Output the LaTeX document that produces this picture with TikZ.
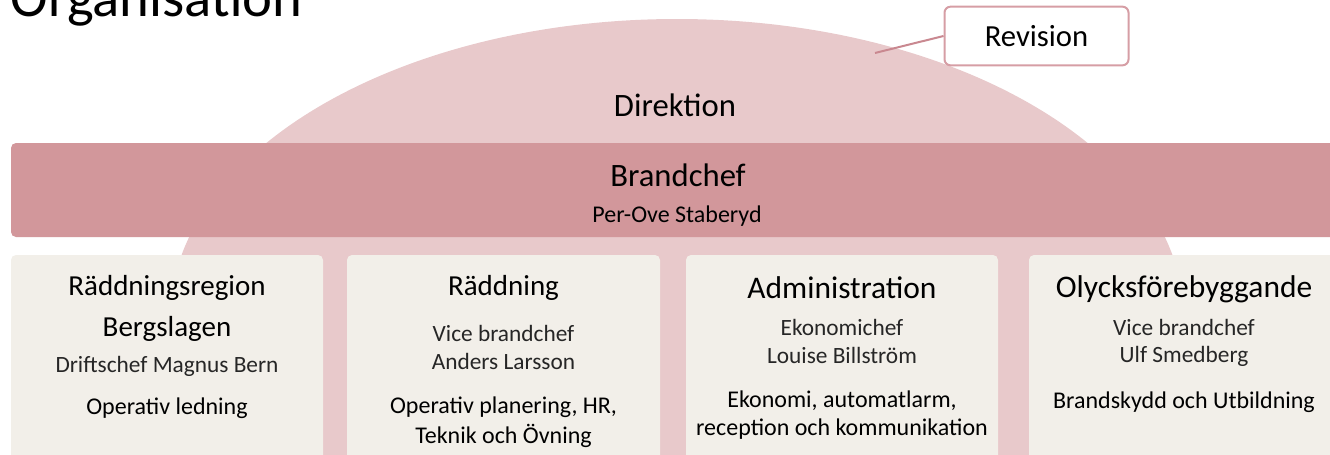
\documentclass[tikz,border=0pt]{standalone}
\usepackage{fontspec}
\setmainfont{Carlito}

\definecolor{domepink}{RGB}{232,201,203}
\definecolor{barpink}{RGB}{210,151,155}
\definecolor{panelgrey}{RGB}{242,239,233}
\definecolor{revpink}{RGB}{214,158,165}
\definecolor{revline}{RGB}{201,136,144}

\tikzset{every picture/.style={line width=0.75pt}}
\tikzset{
  txt/.style={anchor=base,inner sep=0pt,text=black},
  bigtxt/.style={txt,font=\fontsize{24.5}{29}\selectfont},
  headtxt/.style={txt,font=\fontsize{21.75}{26}\selectfont},
  headwide/.style={txt,font=\fontsize{23.6}{28}\selectfont},
  subtxt/.style={txt,text=black!85,font=\fontsize{17.5}{21}\selectfont},
  tasktxt/.style={txt,font=\fontsize{18}{22}\selectfont},
  panel/.style={fill=panelgrey,rounded corners=3.75pt},
  revbox/.style={draw=revpink,line width=1.5pt,fill=white,rounded corners=4.5pt,
    minimum width=138pt,minimum height=44pt,inner sep=0pt,font=\fontsize{23}{27}\selectfont}
}

\begin{document}
\begin{tikzpicture}[x=0.75pt,y=0.75pt,yscale=-1,xscale=1]
\useasboundingbox (0,0) rectangle (1330,454);
\begin{scope}
\clip (0,0) rectangle (1330,454);

%Shape: Dome
\fill[domepink] (677,319) ellipse [x radius=507, y radius=300];
%Shape: Brandchef bar
\fill[barpink,rounded corners=3.75pt] (11,143) rectangle (1345,237);
%Shape: Panels
\fill[panel] (11,255) rectangle (323,470);
\fill[panel] (347,255) rectangle (660,470);
\fill[panel] (686,255) rectangle (998,470);
\fill[panel] (1029,255) rectangle (1339,470);

% Revision box and line
\coordinate (revtip) at (875,53);
\node[revbox] (rev) at (1036.5,36) {Revision};
\draw[revline,line width=1.5pt] (revtip) -- (rev.west);

% Title
\node[anchor=base west,inner sep=0pt,font=\fontsize{42.5}{50}\selectfont] (orgtitle) at (10,16) {Organisation};

% Direktion and Brandchef
\node[bigtxt] (dir) at (675,116) {Direktion};
\node[bigtxt] (chef) at (678,186) {Brandchef};
\node[tasktxt] (chefname) at (677,222) {Per-Ove Staberyd};

% Räddningsregion
\node[headtxt] (rrA) at (167,295) {Räddningsregion};
\node[headtxt] (rrB) at (167,336) {Bergslagen};
\node[subtxt] (rrC) at (167,372) {Driftschef Magnus Bern};
\node[tasktxt] (rrD) at (167,414) {Operativ ledning};

% Räddning
\node[headtxt] (rdA) at (503.5,295) {Räddning};
\node[subtxt] (rdB) at (503.5,341) {Vice brandchef};
\node[subtxt] (rdC) at (503.5,369) {Anders Larsson};
\node[tasktxt] (rdD) at (503.5,413) {Operativ planering, HR,};
\node[tasktxt] (rdE) at (503.5,443) {Teknik och Övning};

% Administration
\node[headwide] (adA) at (842,298) {Administration};
\node[subtxt] (adB) at (842,335) {Ekonomichef};
\node[subtxt] (adC) at (842,363) {Louise Billström};
\node[tasktxt] (adD) at (842,407) {Ekonomi, automatlarm,};
\node[tasktxt] (adE) at (842,435) {reception och kommunikation};

% Olycksförebyggande
\node[headwide] (olA) at (1184,297) {Olycksförebyggande};
\node[subtxt] (olB) at (1184,335) {Vice brandchef};
\node[subtxt] (olC) at (1184,362) {Ulf Smedberg};
\node[tasktxt] (olD) at (1184,408) {Brandskydd och Utbildning};
\end{scope}
\end{tikzpicture}
\end{document}
